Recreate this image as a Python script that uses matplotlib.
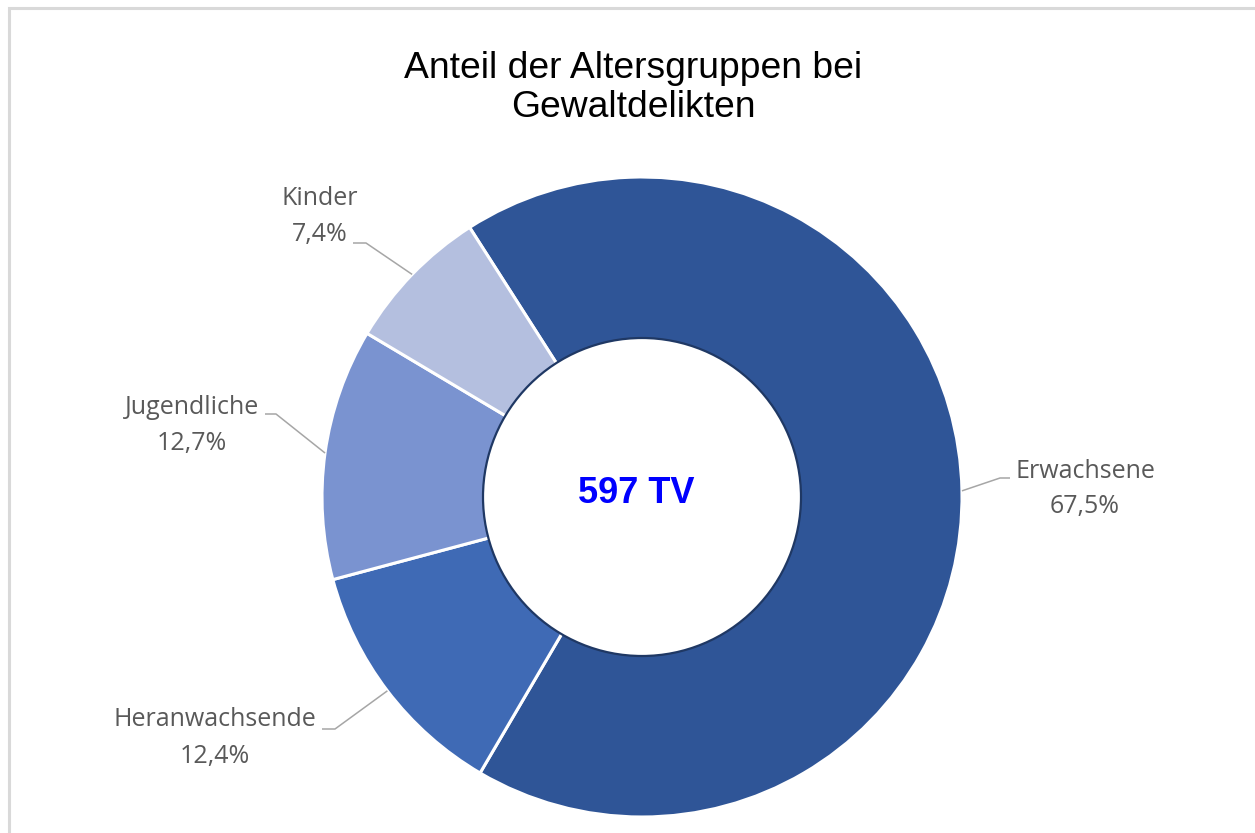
import numpy as np
import matplotlib
matplotlib.use("Agg")
import matplotlib.pyplot as plt
from matplotlib.patches import Circle, Rectangle

# ---- data ----
categories = ["Erwachsene", "Heranwachsende", "Jugendliche", "Kinder"]
shares = [67.5, 12.4, 12.7, 7.4]
value_labels = ["67,5%", "12,4%", "12,7%", "7,4%"]
colors = ["#2F5597", "#3F6AB5", "#7A93D0", "#B4BFDF"]
title_lines = ["Anteil der Altersgruppen bei", "Gewaltdelikten"]
center_text = "597 TV"

W, H = 1255, 833
fig = plt.figure(figsize=(W / 100, H / 100), dpi=100)
ax = fig.add_axes([0, 0, 1, 1])

cx, cy = 642, H - 497
R_out, R_in = 320, 159

wedges, _ = ax.pie(shares, colors=colors, startangle=122.6, counterclock=False,
                   radius=R_out, center=(cx, cy),
                   wedgeprops=dict(edgecolor="white", linewidth=2.2))
ax.add_patch(Circle((cx, cy), R_in, facecolor="white", edgecolor="#1F3864",
                    linewidth=1.6, zorder=5))
ax.set_xlim(0, W)
ax.set_ylim(0, H)
ax.set_aspect("auto")
ax.axis("off")

# chart frame (cropped on right/bottom)
ax.add_patch(Rectangle((9, -30), 1400, H - 8 + 30, fill=False,
                       edgecolor="#D9D9D9", linewidth=2.2, zorder=0))

# title
ax.text(633, H - 68, title_lines[0], ha="center", va="center",
        fontsize=26.8, family="Liberation Sans", color="black")
ax.text(633, H - 107, title_lines[1], ha="center", va="center",
        fontsize=26.8, family="Liberation Sans", color="black")

# center text
ax.text(636, H - 493, center_text, ha="center", va="center", fontsize=26,
        fontweight="bold", family="Liberation Sans", color="#0000FF", zorder=6)

# labels: text centre (x, y of first line) and leader elbow x-range
label_pos = {
    "Erwachsene": ((1085, 471), (1010, 1000)),
    "Heranwachsende": ((215, 720), (322, 335)),
    "Jugendliche": ((192, 407), (265, 276)),
    "Kinder": ((320, 198), (353, 366)),
}
elbow_y_offset = {"Erwachsene": 7, "Heranwachsende": 9, "Jugendliche": 7, "Kinder": 45}

for w, cat, vl in zip(wedges, categories, value_labels):
    (tx, ty), (ex0, ex1) = label_pos[cat]
    ax.text(tx, H - ty, cat, ha="center", va="center", fontsize=18,
            family="Open Sans", color="#595959")
    ax.text(tx, H - ty - 36, vl, ha="center", va="center", fontsize=18,
            family="Open Sans", color="#595959")
    mid = np.deg2rad((w.theta1 + w.theta2) / 2)
    px = cx + R_out * np.cos(mid)
    py = cy + R_out * np.sin(mid)
    ey = H - ty - elbow_y_offset[cat]
    ax.plot([ex0, ex1, px], [ey, ey, py], color="#A6A6A6", linewidth=1.1,
            solid_capstyle="butt", zorder=1)

fig.savefig("out.png", dpi=100, facecolor="white")
